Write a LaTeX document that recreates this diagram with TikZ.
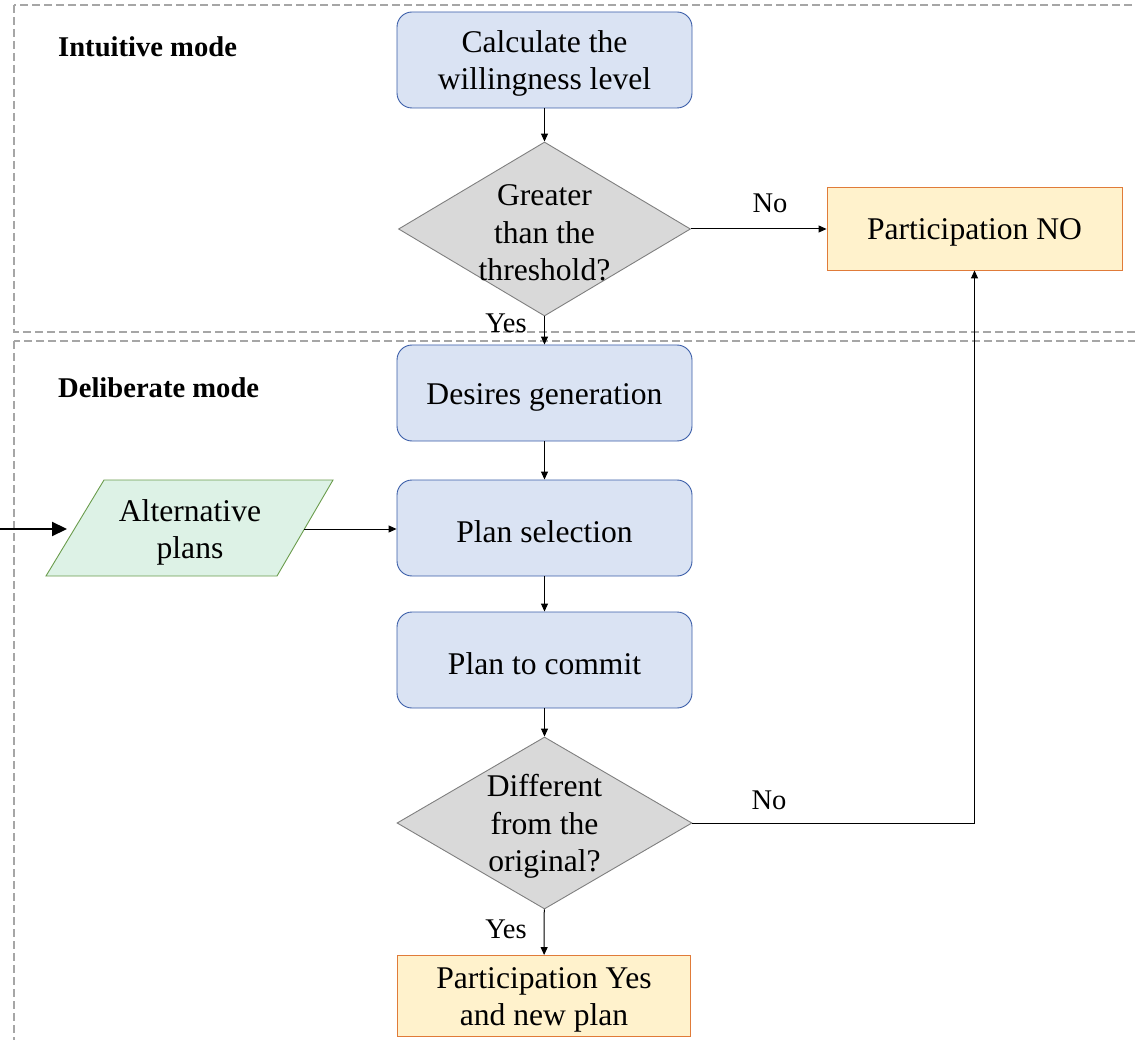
\documentclass[tikz,border=0pt]{standalone}
\usepackage{fontspec}
\setmainfont{Liberation Serif}
\usetikzlibrary{shapes.geometric,arrows.meta,calc}
\definecolor{blueFill}{HTML}{DAE3F3}
\definecolor{blueDraw}{HTML}{3A5DA8}
\definecolor{grayFill}{HTML}{D9D9D9}
\definecolor{grayDraw}{HTML}{7F7F7F}
\definecolor{orangeFill}{HTML}{FFF2CC}
\definecolor{orangeDraw}{HTML}{E07B39}
\definecolor{greenFill}{HTML}{DDF2E6}
\definecolor{greenDraw}{HTML}{6A9C4C}
\definecolor{dashGray}{HTML}{A6A6A6}
\newcommand\maintext{\fontsize{31.6}{37.5}\selectfont}
\newcommand\labeltext{\fontsize{28.5}{32}\selectfont}
\newcommand\modetext{\fontsize{28.6}{34}\selectfont\bfseries}
% a tall invisible strut on the first line sets the text a little lower in its box
\newcommand\toppad{\rule{0pt}{29pt}}
\begin{document}
\begin{tikzpicture}[x=1pt,y=-1pt,
  proc/.style={rectangle, draw=blueDraw, fill=blueFill, rounded corners=15pt,
    minimum width=295pt, minimum height=96pt, line width=0.9pt,
    font=\maintext, align=center, inner sep=0pt},
  decision/.style={diamond, draw=grayDraw, fill=grayFill, inner sep=0pt,
    minimum width=292pt, minimum height=174pt, line width=0.9pt},
  dtext/.style={font=\maintext, align=center, inner sep=0pt},
  outcome/.style={rectangle, draw=orangeDraw, fill=orangeFill, line width=0.9pt,
    font=\maintext, align=center, inner sep=0pt},
  flow/.style={-{Triangle[length=8pt,width=7pt]}, line width=1pt},
  bigflow/.style={-{Triangle[length=15pt,width=14pt]}, line width=2.2pt},
  lbl/.style={font=\labeltext, inner sep=0pt},
  mode/.style={font=\modetext, anchor=base west, inner sep=0pt},
  zone/.style={draw=dashGray, dash pattern=on 8pt off 4pt, line width=1.3pt}]

\useasboundingbox (0,0) rectangle (1135,1040);

% dashed zones for the two modes
\begin{scope}
  \clip (0,0) rectangle (1135,1040);
  \draw[zone] (14,5) rectangle (1170,332);
  \draw[zone] (14,341) rectangle (1170,1090);
\end{scope}

\node[mode] (intuitive) at (58,57) {Intuitive mode};
\node[mode] (deliberate) at (58,397) {Deliberate mode};

% intuitive mode
\node[proc] (calc) at (544.5,60) {\toppad Calculate the\\willingness level};
\node[decision] (d1) at (544.5,229) {};
\node[dtext] (d1t) at (d1.center) {\toppad Greater\\than the\\threshold?};
\node[outcome, minimum width=295pt, minimum height=83pt] (no) at (974.5,228.5) {\toppad Participation NO};

% deliberate mode
\node[proc] (desires) at (544.5,393) {\toppad Desires generation};
\node[proc] (plansel) at (544.5,528) {\toppad Plan selection};
\node[proc] (commit) at (544.5,660) {\toppad Plan to commit};
\node[decision, minimum width=295pt, minimum height=172pt] (d2) at (544.5,823) {};
\node[dtext] (d2t) at (d2.center) {\toppad Different\\from the\\original?};
\node[outcome, minimum width=293pt, minimum height=81pt] (yesbox) at (544,996)
  {\toppad Participation Yes\\and new plan};

% input parallelogram
\draw[fill=greenFill, draw=greenDraw, line width=0.9pt]
  (104,480) -- (333,480) -- (277,576) -- (46,576) -- cycle;
\node[dtext] (alt) at (190,529) {\toppad Alternative\\plans};
\coordinate (altin) at (67,529);
\coordinate (altout) at (304,529);
\coordinate (src) at (-2,529);

% connectors
\draw[flow] (calc) -- (d1);
\draw[flow] (d1.east) -- (d1.east -| no.west);
\draw[flow] (d1) -- (desires);
\draw[flow] (desires) -- (plansel);
\draw[flow] (plansel) -- (commit);
\draw[flow] (commit) -- (d2);
\draw[flow] (d2) -- (yesbox);
\draw[flow] (d2.east) -| (no.south);
\draw[flow] (altout) -- (plansel.west |- altout);
\draw[bigflow] (src) -- (altin);

% branch labels
\node[lbl] (no1) at (770,203) {No};
\node[lbl] (no2) at (769,800) {No};
\node[lbl] (yes1) at (506,323) {Yes};
\node[lbl] (yes2) at (506,929) {Yes};
\end{tikzpicture}
\end{document}
